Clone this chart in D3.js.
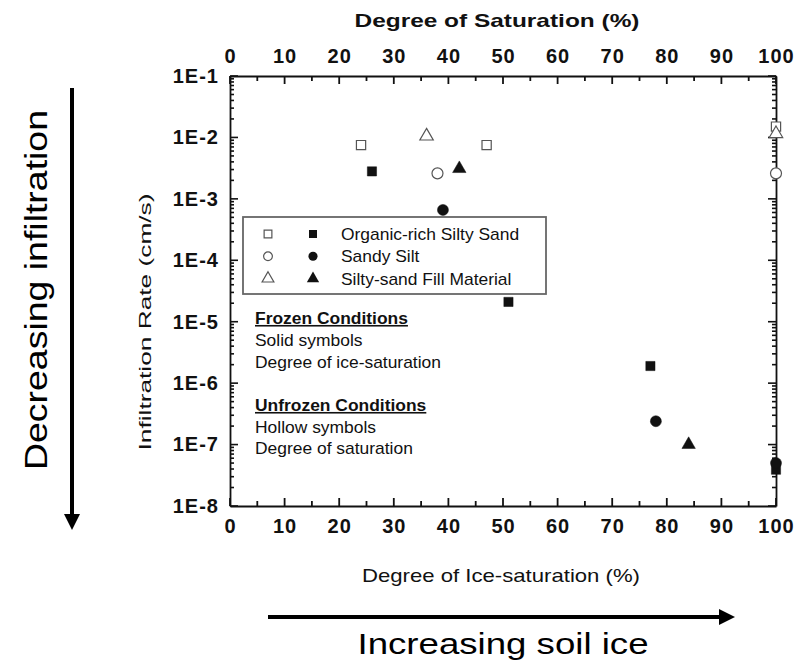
<!DOCTYPE html>
<html>
<head>
<meta charset="utf-8">
<script src="https://cdn.jsdelivr.net/npm/d3@7"></script>
<style>
  body { margin: 0; background: #fff; }
  text { font-family: Arial, "Liberation Sans", sans-serif; fill: #111; }
</style>
</head>
<body>
<script>
// data: [degree of (ice-)saturation %, infiltration rate cm/s]
var organicUnfrozen = [[24, 7.5e-3], [47, 7.5e-3], [100, 1.5e-2]];
var organicFrozen = [[26, 2.8e-3], [51, 2.1e-5], [77, 1.9e-6], [100, 3.9e-8]];
var siltUnfrozen = [[38, 2.6e-3], [100, 2.6e-3]];
var siltFrozen = [[39, 6.6e-4], [78, 2.4e-7], [100, 5e-8]];
var fillUnfrozen = [[36, 1.05e-2], [100, 1.15e-2]];
var fillFrozen = [[42, 3.1e-3], [84, 1e-7]];

var legendNames = ["Organic-rich Silty Sand", "Sandy Silt", "Silty-sand Fill Material"];
var legendShapes = ["square", "circle", "triangle"];
var xTicks = [0, 10, 20, 30, 40, 50, 60, 70, 80, 90, 100];
var yDecades = [1e-8, 1e-7, 1e-6, 1e-5, 1e-4, 1e-3, 1e-2, 1e-1];

var width = 800, height = 670;
var pLeft = 230, pRight = 776, pTop = 76, pBottom = 506;

var svg = d3.select("body").append("svg")
    .attr("width", width)
    .attr("height", height);

var x = d3.scaleLinear().domain([0, 100]).range([pLeft, pRight]);
var y = d3.scaleLog().domain([1e-8, 1e-1]).range([pBottom, pTop]);

var minorX = d3.range(5, 100, 10);
var minorY = y.ticks().filter(function(v) {
    return Math.abs(Math.log10(v) - Math.round(Math.log10(v))) > 1e-6;
});
var fmtY = function(d) { return "1E" + Math.round(Math.log10(d)); };

function styleAxis(g) {
    g.select(".domain").attr("stroke", "#111").attr("stroke-width", 1.8);
    g.selectAll(".tick line").remove();
    g.selectAll(".tick text").style("font-size", "20px").style("font-weight", "bold")
        .style("letter-spacing", "1px").style("fill", "#111").attr("font-family", null);
}

// axes: frame lines and labels
var frame = svg.append("g");
frame.append("g").attr("transform", "translate(0," + pBottom + ")")
    .call(d3.axisBottom(x).tickValues(xTicks).tickSize(0).tickPadding(13))
    .call(styleAxis);
frame.append("g").attr("transform", "translate(0," + pTop + ")")
    .call(d3.axisTop(x).tickValues(xTicks).tickSize(0).tickPadding(13))
    .call(styleAxis);
frame.append("g").attr("transform", "translate(" + pLeft + ",0)")
    .call(d3.axisLeft(y).tickValues(yDecades).tickFormat(fmtY).tickSize(0).tickPadding(11))
    .call(styleAxis);
frame.append("g").attr("transform", "translate(" + pRight + ",0)")
    .call(d3.axisRight(y).tickValues(yDecades).tickFormat("").tickSize(0))
    .call(styleAxis);

// inward ticks on all four sides
function xTickMarks(vals, len) {
    [[pBottom, -1], [pTop, 1]].forEach(function(side) {
        frame.append("g").selectAll("line").data(vals).enter().append("line")
            .attr("x1", function(d) { return x(d); }).attr("x2", function(d) { return x(d); })
            .attr("y1", side[0]).attr("y2", side[0] + side[1] * len)
            .attr("stroke", "#111").attr("stroke-width", 1.8);
    });
}
function yTickMarks(vals, len) {
    [[pLeft, 1], [pRight, -1]].forEach(function(side) {
        frame.append("g").selectAll("line").data(vals).enter().append("line")
            .attr("y1", function(d) { return y(d); }).attr("y2", function(d) { return y(d); })
            .attr("x1", side[0]).attr("x2", side[0] + side[1] * len)
            .attr("stroke", "#111").attr("stroke-width", 1.6);
    });
}
xTickMarks(xTicks, 8);
xTickMarks(minorX, 5);
yTickMarks(yDecades, 8);
yTickMarks(minorY, 4);

// axis titles
svg.append("text").attr("x", 497).attr("y", 27)
    .attr("text-anchor", "middle").style("font-size", "19px").style("font-weight", "bold")
    .attr("textLength", 285).attr("lengthAdjust", "spacingAndGlyphs")
    .text("Degree of Saturation (%)");
svg.append("text").attr("x", 501).attr("y", 582)
    .attr("text-anchor", "middle").style("font-size", "19px")
    .attr("textLength", 278).attr("lengthAdjust", "spacingAndGlyphs")
    .text("Degree of Ice-saturation (%)");
svg.append("text")
    .attr("transform", "translate(151,322) rotate(-90)")
    .attr("text-anchor", "middle").style("font-size", "17px")
    .attr("textLength", 257).attr("lengthAdjust", "spacingAndGlyphs")
    .text("Infiltration Rate (cm/s)");

// markers
var symSize = { square: 85, circle: 95, triangle: 78 };
var symType = { square: d3.symbolSquare, circle: d3.symbolCircle, triangle: d3.symbolTriangle };

function drawPoints(data, shape, filled) {
    svg.append("g").selectAll("path")
        .data(data)
        .enter().append("path")
        .attr("transform", function(d) { return "translate(" + x(d[0]) + "," + y(d[1]) + ")"; })
        .attr("d", d3.symbol().type(symType[shape]).size(symSize[shape]))
        .attr("fill", filled ? "#111" : "#fff")
        .attr("stroke", filled ? "#111" : "#555")
        .attr("stroke-width", filled ? 0.5 : 1.2);
}
drawPoints(organicUnfrozen, "square", false);
drawPoints(siltUnfrozen, "circle", false);
drawPoints(fillUnfrozen, "triangle", false);
drawPoints(organicFrozen, "square", true);
drawPoints(siltFrozen, "circle", true);
drawPoints(fillFrozen, "triangle", true);

// legend
var stretch = 1.09;
var lg = svg.append("g");
lg.append("rect").attr("x", 243).attr("y", 217).attr("width", 303).attr("height", 77)
    .attr("fill", "#fff").attr("stroke", "#666").attr("stroke-width", 1.8);
legendNames.forEach(function(name, i) {
    var ly = 234 + i * 22.3;
    var t = symType[legendShapes[i]];
    lg.append("path").attr("transform", "translate(268," + ly + ")")
        .attr("d", d3.symbol().type(t).size(60)).attr("fill", "#fff").attr("stroke", "#555").attr("stroke-width", 1.2);
    lg.append("path").attr("transform", "translate(313," + ly + ")")
        .attr("d", d3.symbol().type(t).size(65)).attr("fill", "#111");
    lg.append("text").attr("transform", "translate(341," + (ly + 6) + ") scale(" + stretch + ",1)")
        .style("font-size", "16px").text(name);
});

// notes
var notes = [
    ["Frozen Conditions", 324, true],
    ["Solid symbols", 346, false],
    ["Degree of ice-saturation", 368, false],
    ["Unfrozen Conditions", 411, true],
    ["Hollow symbols", 433, false],
    ["Degree of saturation", 454, false]
];
notes.forEach(function(n) {
    svg.append("text").attr("transform", "translate(255," + n[1] + ") scale(" + stretch + ",1)")
        .style("font-size", "16px")
        .style("font-weight", n[2] ? "bold" : "normal")
        .style("text-decoration", n[2] ? "underline" : "none")
        .text(n[0]);
});

// arrows
var defs = svg.append("defs");
defs.append("marker").attr("id", "head").attr("viewBox", "0 0 10 10")
    .attr("refX", 0).attr("refY", 5).attr("markerWidth", 4).attr("markerHeight", 4.3)
    .attr("markerUnits", "strokeWidth").attr("orient", "auto")
    .append("path").attr("d", "M0,0 L10,5 L0,10 Z").attr("fill", "#000");

svg.append("line").attr("x1", 72).attr("y1", 88).attr("x2", 72).attr("y2", 514)
    .attr("stroke", "#000").attr("stroke-width", 4).attr("marker-end", "url(#head)");
svg.append("text")
    .attr("transform", "translate(47,290) rotate(-90)")
    .attr("text-anchor", "middle").style("font-size", "32px").style("fill", "#000")
    .attr("textLength", 360).attr("lengthAdjust", "spacingAndGlyphs")
    .text("Decreasing infiltration");

svg.append("line").attr("x1", 268).attr("y1", 617).attr("x2", 719).attr("y2", 617)
    .attr("stroke", "#000").attr("stroke-width", 4).attr("marker-end", "url(#head)");
svg.append("text").attr("x", 503).attr("y", 654)
    .attr("text-anchor", "middle").style("font-size", "30px").style("fill", "#000")
    .attr("textLength", 291).attr("lengthAdjust", "spacingAndGlyphs")
    .text("Increasing soil ice");
</script>
</body>
</html>
